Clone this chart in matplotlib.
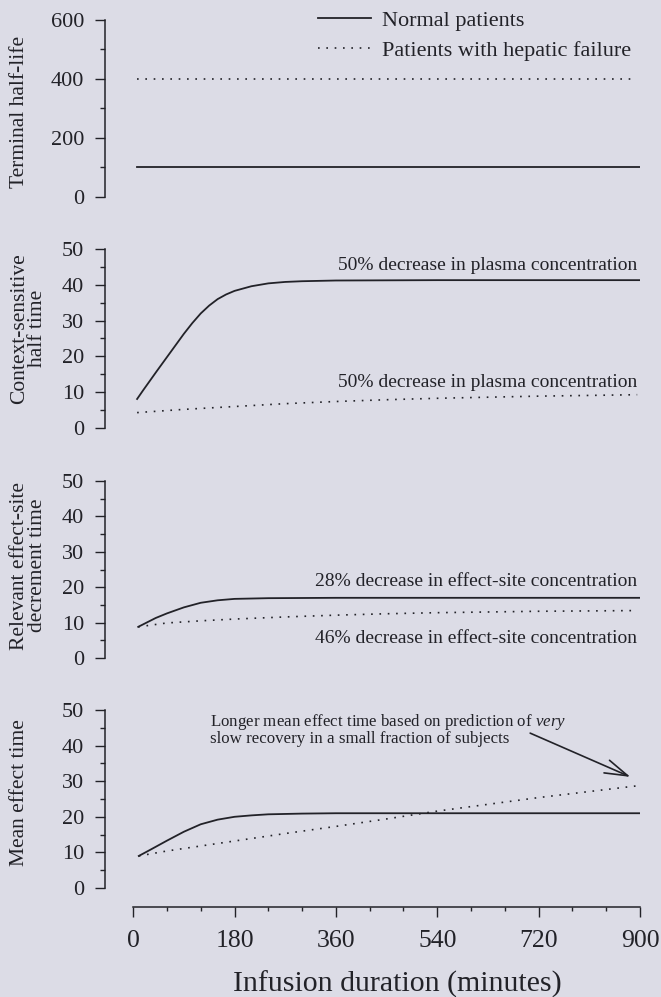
"""
Half-life / decrement times vs infusion duration, normal vs hepatic failure.
"""

import matplotlib
matplotlib.use("Agg")
import matplotlib.pyplot as plt
from matplotlib.lines import Line2D
from matplotlib.ticker import MultipleLocator

plt.rcParams['font.family'] = ['Liberation Serif', 'DejaVu Serif']
plt.rcParams['mathtext.fontset'] = 'custom'
plt.rcParams['mathtext.rm'] = 'Liberation Serif'
plt.rcParams['mathtext.it'] = 'Liberation Serif:italic'

BG = '#dcdce6'
INK = '#222228'

# Terminal half-life (flat)
half_x = [7, 900]
half_normal = [100, 100]
half_hepatic_x = [7, 892]
half_hepatic = [400, 400]

# Context-sensitive half time
cs_normal_x = [7, 18, 42, 66, 90, 105, 120, 135, 150, 165, 180, 210, 240, 270, 300, 360, 540, 720, 900]
cs_normal = [8.1, 10.6, 15.9, 21.1, 26.3, 29.3, 32, 34.2, 36, 37.3, 38.3, 39.6, 40.4, 40.8, 41.0, 41.2, 41.3, 41.3, 41.3]
cs_hepatic_x = [7, 90, 180, 270, 360, 450, 540, 630, 720, 810, 895]
cs_hepatic = [4.3, 5.2, 6.0, 6.8, 7.4, 7.9, 8.3, 8.6, 8.9, 9.1, 9.3]

# Relevant effect-site decrement time
es_normal_x = [9, 40, 60, 90, 120, 150, 180, 240, 360, 540, 720, 900]
es_normal = [8.8, 11.3, 12.6, 14.3, 15.6, 16.3, 16.7, 16.9, 17, 17, 17, 17]
es_hepatic_x = [9, 60, 120, 180, 270, 360, 450, 540, 630, 720, 810, 895]
es_hepatic = [8.8, 9.9, 10.5, 11, 11.6, 12.1, 12.5, 12.8, 13.0, 13.2, 13.3, 13.4]

# Mean effect time
me_normal_x = [10, 30, 60, 90, 120, 150, 180, 210, 240, 300, 360, 540, 720, 900]
me_normal = [9, 10.7, 13.3, 15.8, 17.9, 19.2, 20, 20.4, 20.7, 20.9, 21, 21, 21, 21]
me_hepatic_x = [10, 60, 120, 180, 270, 360, 450, 540, 630, 720, 810, 895]
me_hepatic = [9, 10.4, 11.8, 13.2, 15.3, 17.3, 19.4, 21.6, 23.5, 25.4, 27.1, 28.7]

x_ticks = [0, 180, 360, 540, 720, 900]
DOT = (0, (1, 4))

W, H = 661, 997
fig = plt.figure(figsize=(W / 100, H / 100), dpi=100, facecolor=BG)

# panel extents in pixels (top, bottom)
panels = [(20, 197), (249, 428), (481, 658), (710, 888)]
label_shift = [3, -10, -4, -6]
left_px, right_px = 105, 640

axes = []
for top, bot in panels:
    ax = fig.add_axes([left_px / W, 1 - bot / H, (right_px - left_px) / W, (bot - top) / H])
    ax.set_facecolor('none')
    ax.set_xlim(-50, 900)
    for s in ['top', 'right', 'bottom']:
        ax.spines[s].set_visible(False)
    ax.spines['left'].set_color(INK)
    ax.spines['left'].set_linewidth(1.1)
    ax.tick_params(axis='y', which='major', direction='out', length=7, width=1.0,
                   color=INK, labelcolor=INK, labelsize=16, pad=8)
    ax.tick_params(axis='y', which='minor', direction='out', length=3.5, width=1.0, color=INK)
    ax.set_xticks([])
    axes.append(ax)

ax1, ax2, ax3, ax4 = axes

# panel 1
ax1.set_ylim(0, 600)
ax1.yaxis.set_major_locator(MultipleLocator(200))
ax1.yaxis.set_minor_locator(MultipleLocator(100))
ax1.plot(half_x, half_normal, color=INK, lw=1.3)
ax1.plot(half_hepatic_x, half_hepatic, color=INK, lw=1.2, ls=DOT)

handles = [Line2D([], [], color=INK, lw=1.3),
           Line2D([], [], color=INK, lw=1.2, ls=DOT)]
fig.legend(handles, ['Normal patients', 'Patients with hepatic failure'],
           loc='upper left', bbox_to_anchor=(298 / W, 1 + 10 / H),
           frameon=False, fontsize=16, handlelength=2.4, handletextpad=0.5,
           labelspacing=0.45, labelcolor=INK)

for ax in (ax2, ax3, ax4):
    ax.set_ylim(0, 50)
    ax.yaxis.set_major_locator(MultipleLocator(10))
    ax.yaxis.set_minor_locator(MultipleLocator(5))

# panel 2
ax2.plot(cs_normal_x, cs_normal, color=INK, lw=1.3)
ax2.plot(cs_hepatic_x, cs_hepatic, color=INK, lw=1.2, ls=DOT)
ax2.text(895, 45.5, '50% decrease in plasma concentration', ha='right', va='center',
         fontsize=14, color=INK)
ax2.text(895, 12.8, '50% decrease in plasma concentration', ha='right', va='center',
         fontsize=14, color=INK)

# panel 3
ax3.plot(es_normal_x, es_normal, color=INK, lw=1.3)
ax3.plot(es_hepatic_x, es_hepatic, color=INK, lw=1.2, ls=DOT)
ax3.text(895, 21.5, '28% decrease in effect-site concentration', ha='right', va='center',
         fontsize=14, color=INK)
ax3.text(895, 5.6, '46% decrease in effect-site concentration', ha='right', va='center',
         fontsize=14, color=INK)

# panel 4
ax4.plot(me_normal_x, me_normal, color=INK, lw=1.3)
ax4.plot(me_hepatic_x, me_hepatic, color=INK, lw=1.2, ls=DOT)
ax4.text(137, 44.6, 'Longer mean effect time based on prediction of $very$\n'
         'slow recovery in a small fraction of subjects',
         ha='left', va='center', fontsize=12.2, color=INK, linespacing=0.95)
ax4.annotate('', xy=(883, 31.2), xytext=(705, 43.5),
             arrowprops=dict(arrowstyle='->,head_length=1.5,head_width=0.45',
                             color=INK, lw=1.2, mutation_scale=11, shrinkA=0, shrinkB=0))

# shared x axis below the bottom panel
ax4.spines['bottom'].set_visible(True)
ax4.spines['bottom'].set_position(('outward', 14))
ax4.spines['bottom'].set_bounds(0, 900)
ax4.spines['bottom'].set_color(INK)
ax4.spines['bottom'].set_linewidth(1.1)
ax4.set_xticks(x_ticks)
ax4.xaxis.set_minor_locator(MultipleLocator(60))
ax4.tick_params(axis='x', which='major', direction='out', length=7, width=1.0,
                color=INK, labelcolor=INK, labelsize=18.5, pad=9)
ax4.tick_params(axis='x', which='minor', direction='out', length=3, width=1.0, color=INK)
ax4.set_xlabel('Infusion duration (minutes)', fontsize=21.5, color=INK)
ax4.xaxis.set_label_coords((397 - left_px) / (right_px - left_px), -0.465)
ax4.xaxis.label.set_va('top')

# y labels, left edges aligned
ylabels = ['Terminal half-life', 'Context-sensitive\nhalf time',
           'Relevant effect-site\ndecrement time', 'Mean effect time']
for (top, bot), shift, lab in zip(panels, label_shift, ylabels):
    fig.text(10 / W, 1 - ((top + bot) / 2 + shift) / H, lab, rotation=90, ha='left', va='center',
             multialignment='center', fontsize=15.5, color=INK, linespacing=0.95)

fig.savefig('out.png', dpi=100, facecolor=BG)
